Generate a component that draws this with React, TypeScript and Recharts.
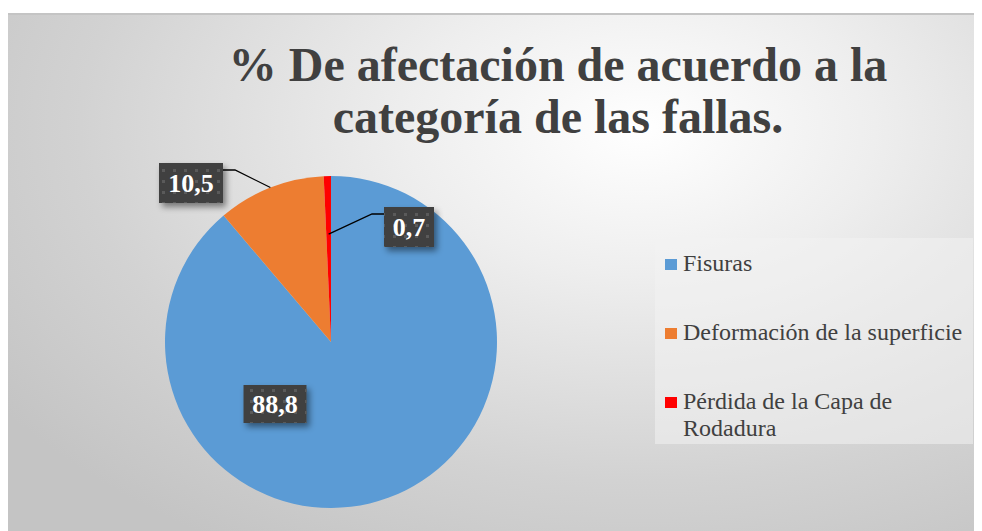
import React from "react";
import { PieChart, Pie, Cell, Legend } from "recharts";

const CATEGORIES = ["Fisuras", "Deformación de la superficie", "Pérdida de la Capa de Rodadura"];
const VALUES = [88.8, 10.5, 0.7];
const COLORS = ["#5B9BD5", "#ED7D31", "#FF0000"];

const data = CATEGORIES.map((name, i) => ({ name, value: VALUES[i] }));

const RAD = Math.PI / 180;
const serif = "Liberation Serif, Times New Roman, serif";

// label box placement relative to the pie centre (Excel "best fit" look)
const LABEL_BOXES = [
  { dx: -56, dy: 62, w: 63, h: 38, line: null },
  { dx: -140, dy: -159, w: 64, h: 40, line: { from: [-108, -172], elbow: [-96, -172], r: 1 } },
  { dx: 78, dy: -115, w: 50, h: 40, line: { from: [53, -128], elbow: [41, -128], r: 0.65 } },
];

const fmt = (v: number) => v.toFixed(1).replace(".", ",");

const renderLabel = (props: any) => {
  const { cx, cy, midAngle, outerRadius, index, value } = props;
  const b = LABEL_BOXES[index];
  if (!b) return null;
  const bx = cx + b.dx - b.w / 2;
  const by = cy + b.dy - b.h / 2;
  let line = null;
  if (b.line) {
    const rr = outerRadius * b.line.r;
    const px = cx + rr * Math.cos(-midAngle * RAD);
    const py = cy + rr * Math.sin(-midAngle * RAD);
    line = (
      <polyline
        points={`${cx + b.line.from[0]},${cy + b.line.from[1]} ${cx + b.line.elbow[0]},${cy + b.line.elbow[1]} ${px},${py}`}
        fill="none"
        stroke="#000"
        strokeWidth={1.3}
      />
    );
  }
  return (
    <g key={`lbl-${index}`}>
      {line}
      <rect x={bx} y={by} width={b.w} height={b.h} fill="#404040" filter="url(#boxShadow)" />
      <rect x={bx} y={by} width={b.w} height={b.h} fill="url(#boxDots)" />
      <text
        x={bx + b.w / 2}
        y={by + b.h / 2 + 9}
        textAnchor="middle"
        fill="#ffffff"
        style={{ fontFamily: serif, fontWeight: "bold", fontSize: 26 }}
      >
        {fmt(value)}
      </text>
    </g>
  );
};

// legend drawn in data order (Recharts 3 sorts payload by name otherwise)
const renderLegend = () => {
  const tops = [12, 81, 150];
  return (
    <div style={{ position: "relative", width: 318, height: 206, background: "rgba(242,242,242,0.55)" }}>
      {CATEGORIES.map((name, i) => (
        <div
          key={name}
          style={{
            position: "absolute",
            left: 10,
            top: tops[i],
            width: 300,
            display: "flex",
            alignItems: "flex-start",
            fontFamily: serif,
            fontSize: 24,
            lineHeight: "27px",
            color: "#404040",
          }}
        >
          <span
            style={{
              display: "inline-block",
              width: 12,
              height: 11,
              background: COLORS[i],
              marginTop: 9,
              marginRight: 6,
              flexShrink: 0,
            }}
          />
          <span style={{ width: 280 }}>{name}</span>
        </div>
      ))}
    </div>
  );
};

export default function App() {
  return (
    <div
      style={{
        position: "relative",
        marginTop: 5,
        width: 974,
        height: 518,
        boxSizing: "border-box",
        borderTop: "2px solid #c4c4c4",
        background:
          "radial-gradient(ellipse 80% 95% at 65% 22%, #ffffff 0%, #eeeeee 30%, #d2d2d2 72%, #c4c4c4 100%)",
      }}
    >
      <div
        style={{
          position: "absolute",
          left: 0,
          top: 24,
          width: 1100,
          textAlign: "center",
          fontFamily: serif,
          fontWeight: "bold",
          fontSize: 48,
          lineHeight: "52px",
          color: "#404040",
        }}
      >
        % De afectación de acuerdo a la
        <br />
        categoría de las fallas.
      </div>
      <PieChart width={974} height={516} margin={{ top: 0, right: 0, bottom: 0, left: 0 }}>
        <defs>
          <filter id="boxShadow" x="-20%" y="-20%" width="150%" height="160%">
            <feDropShadow dx={3} dy={4} stdDeviation={3} floodColor="#000" floodOpacity={0.45} />
          </filter>
          <pattern id="boxDots" width={11} height={11} patternUnits="userSpaceOnUse">
            <rect x={0} y={0} width={3} height={3} fill="#5a5a5a" />
          </pattern>
        </defs>
        <Pie
          data={data}
          dataKey="value"
          nameKey="name"
          cx={323}
          cy={327}
          outerRadius={166}
          startAngle={90}
          endAngle={-270}
          stroke="none"
          labelLine={false}
          label={renderLabel}
          isAnimationActive={false}
        >
          {data.map((d, i) => (
            <Cell key={d.name} fill={COLORS[i]} />
          ))}
        </Pie>
        <Legend
          layout="vertical"
          content={renderLegend}
          wrapperStyle={{ position: "absolute", left: 647, top: 223, width: 318, height: 206 }}
        />
      </PieChart>
    </div>
  );
}
